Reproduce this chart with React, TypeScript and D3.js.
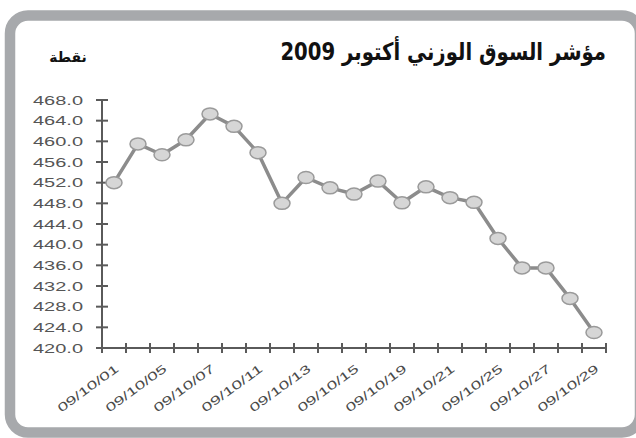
import * as d3 from "d3";

// trading days, October 2009
const days = ["01", "04", "05", "06", "07", "08", "11", "12", "13", "14", "15", "18", "19", "20", "21", "22", "25", "26", "27", "28", "29"];
const values = [452.0, 459.5, 457.4, 460.3, 465.3, 462.9, 457.8, 448.0, 453.0, 451.0, 449.8, 452.3, 448.1, 451.2, 449.1, 448.2, 441.2, 435.5, 435.5, 429.6, 423.0];
const yTicks = [420, 424, 428, 432, 436, 440, 444, 448, 452, 456, 460, 464, 468];

const title = "مؤشر السوق الوزني أكتوبر 2009";
const unitLabel = "نقطة";

export default function App() {
  const width = 636;
  const height = 438;
  const m = { left: 102, right: 30, top: 100, bottom: 90 };

  const x = d3.scaleBand().domain(days).range([m.left, width - m.right]).padding(0);
  const y = d3.scaleLinear().domain([420, 468]).range([height - m.bottom, m.top]);
  const fmt = d3.format(".1f");

  const line = d3
    .line<number>()
    .x((_, i) => x(days[i])! + x.bandwidth() / 2)
    .y((d) => y(d));

  const axisColor = "#5a5a5a";
  const y0 = y(420);
  const boundaries = days.map((d) => x(d)!).concat([x.range()[1]]);

  return (
    <svg width={width} height={height} style={{ position: "absolute", left: 0, top: 0 }}>
      <rect x={0} y={0} width={width} height={height} fill="#fff" />
      <rect x={10} y={15.5} width={630} height={417} rx={18} ry={18} fill="#fff" stroke="#a7a9ac" strokeWidth={10.5} />

      {/* title, condensed like the original */}
      <g transform="translate(606,60) scale(0.82,1)">
        <text x={0} y={0} textAnchor="start" direction="rtl" fontFamily="'DejaVu Sans', sans-serif" fontWeight="bold" fontSize={24} fill="#111">
          {title}
        </text>
      </g>
      <text x={68} y={62} textAnchor="middle" direction="rtl" fontFamily="'DejaVu Sans', sans-serif" fontWeight="bold" fontSize={14} fill="#111">
        {unitLabel}
      </text>

      {/* y axis */}
      <line x1={m.left} x2={m.left} y1={y(468) - 1} y2={y0} stroke={axisColor} strokeWidth={2} />
      {yTicks.map((t) => (
        <g key={t}>
          <line x1={m.left - 6} x2={m.left + 6} y1={y(t)} y2={y(t)} stroke={axisColor} strokeWidth={2} />
          <text x={83} y={y(t)} dy="0.36em" textAnchor="end" fontFamily="Arial, 'Liberation Sans', sans-serif" fontSize={12.5} fill="#555" textLength={50} lengthAdjust="spacingAndGlyphs">
            {fmt(t)}
          </text>
        </g>
      ))}

      {/* x axis */}
      <line x1={m.left} x2={x.range()[1]} y1={y0} y2={y0} stroke={axisColor} strokeWidth={2} />
      {boundaries.map((b, i) => (
        <line key={i} x1={b} x2={b} y1={y0 - 5} y2={y0 + 5} stroke={axisColor} strokeWidth={2} />
      ))}
      {days.map((d, i) =>
        i % 2 === 0 ? (
          <text
            key={d}
            transform={`translate(${x(d)! + x.bandwidth() / 2 + 3},${y0 + 19}) rotate(-36)`}
            textAnchor="end"
            dy="0.35em"
            fontFamily="Arial, 'Liberation Sans', sans-serif"
            fontSize={12}
            fill="#4a4a4a"
            textLength={72}
            lengthAdjust="spacingAndGlyphs"
          >
            {`09/10/${d}`}
          </text>
        ) : null
      )}

      {/* series */}
      <path d={line(values)!} fill="none" stroke="#8c8c8c" strokeWidth={3.5} strokeLinejoin="round" />
      {values.map((v, i) => (
        <ellipse key={i} cx={x(days[i])! + x.bandwidth() / 2} cy={y(v)} rx={8} ry={6} fill="#d6d6d6" stroke="#9a9a9a" strokeWidth={1.5} />
      ))}
    </svg>
  );
}
